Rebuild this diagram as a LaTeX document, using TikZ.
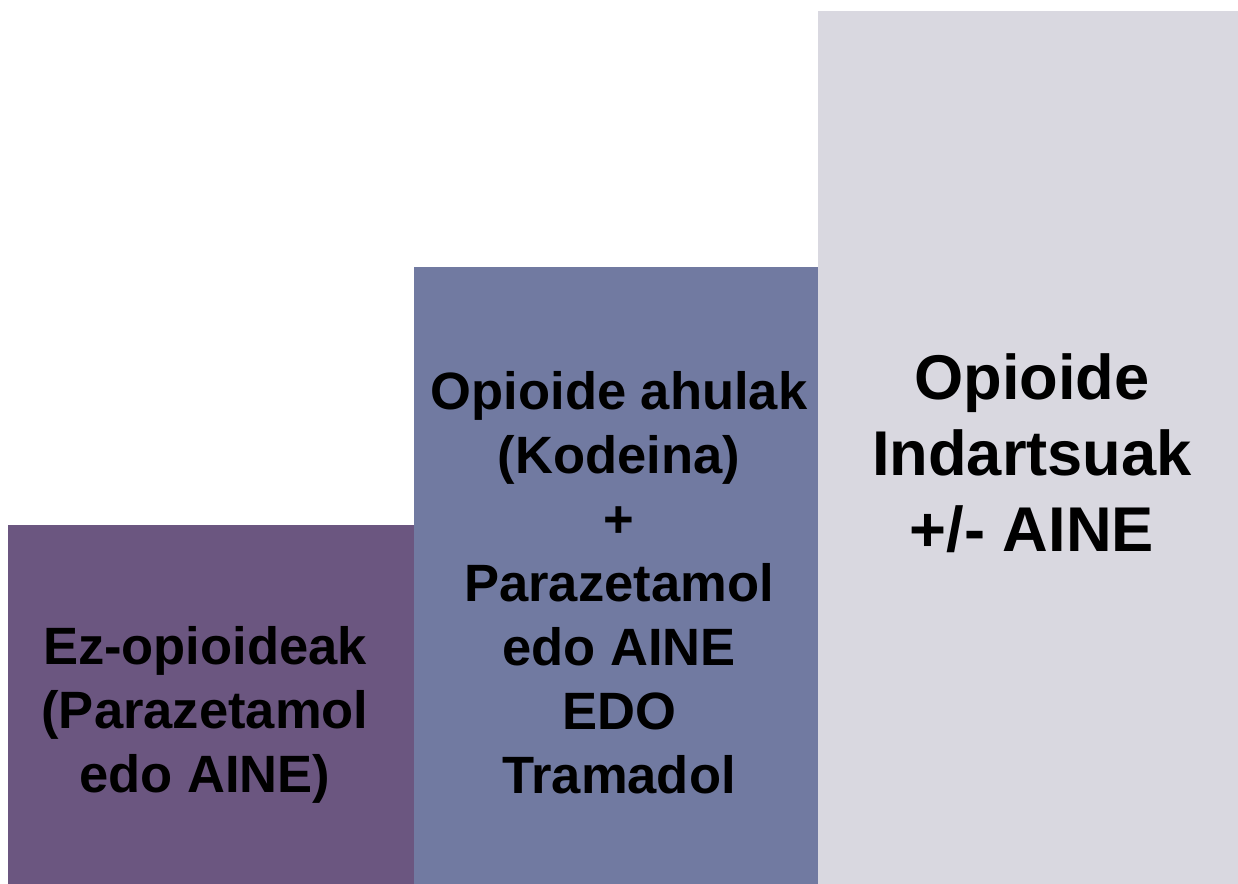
\documentclass[tikz,border=0pt]{standalone}
\usepackage{fontspec}
\setmainfont{Liberation Sans}

\definecolor{stepone}{HTML}{6B5680}
\definecolor{steptwo}{HTML}{717AA1}
\definecolor{stepthree}{HTML}{D9D8E0}

\begin{document}
\begin{tikzpicture}[x=0.02cm, y=-0.02cm,
    lbl/.style={align=center, inner sep=0pt, font=\bfseries\fontsize{29.9}{36.4}\selectfont},
    biglbl/.style={lbl, font=\bfseries\fontsize{36}{43.2}\selectfont}]
  \useasboundingbox[fill=white] (0,0) rectangle (1238,884);

  % the three steps
  \fill[stepone] (8,525) rectangle (414,884);
  \fill[steptwo] (414,267) rectangle (818,884);
  \fill[stepthree] (818,11) rectangle (1238,884);

  \node[lbl] (ezopioid) at (205,715) {Ez-opioideak\\(Parazetamol\\edo AINE)};
  \node[lbl] (ahulak) at (619,583) {Opioide ahulak\\(Kodeina)\\+\\Parazetamol\\edo AINE\\EDO\\Tramadol};
  \node[biglbl] (indartsu) at (1032,453) {Opioide\\Indartsuak\\+/- AINE};
\end{tikzpicture}
\end{document}
